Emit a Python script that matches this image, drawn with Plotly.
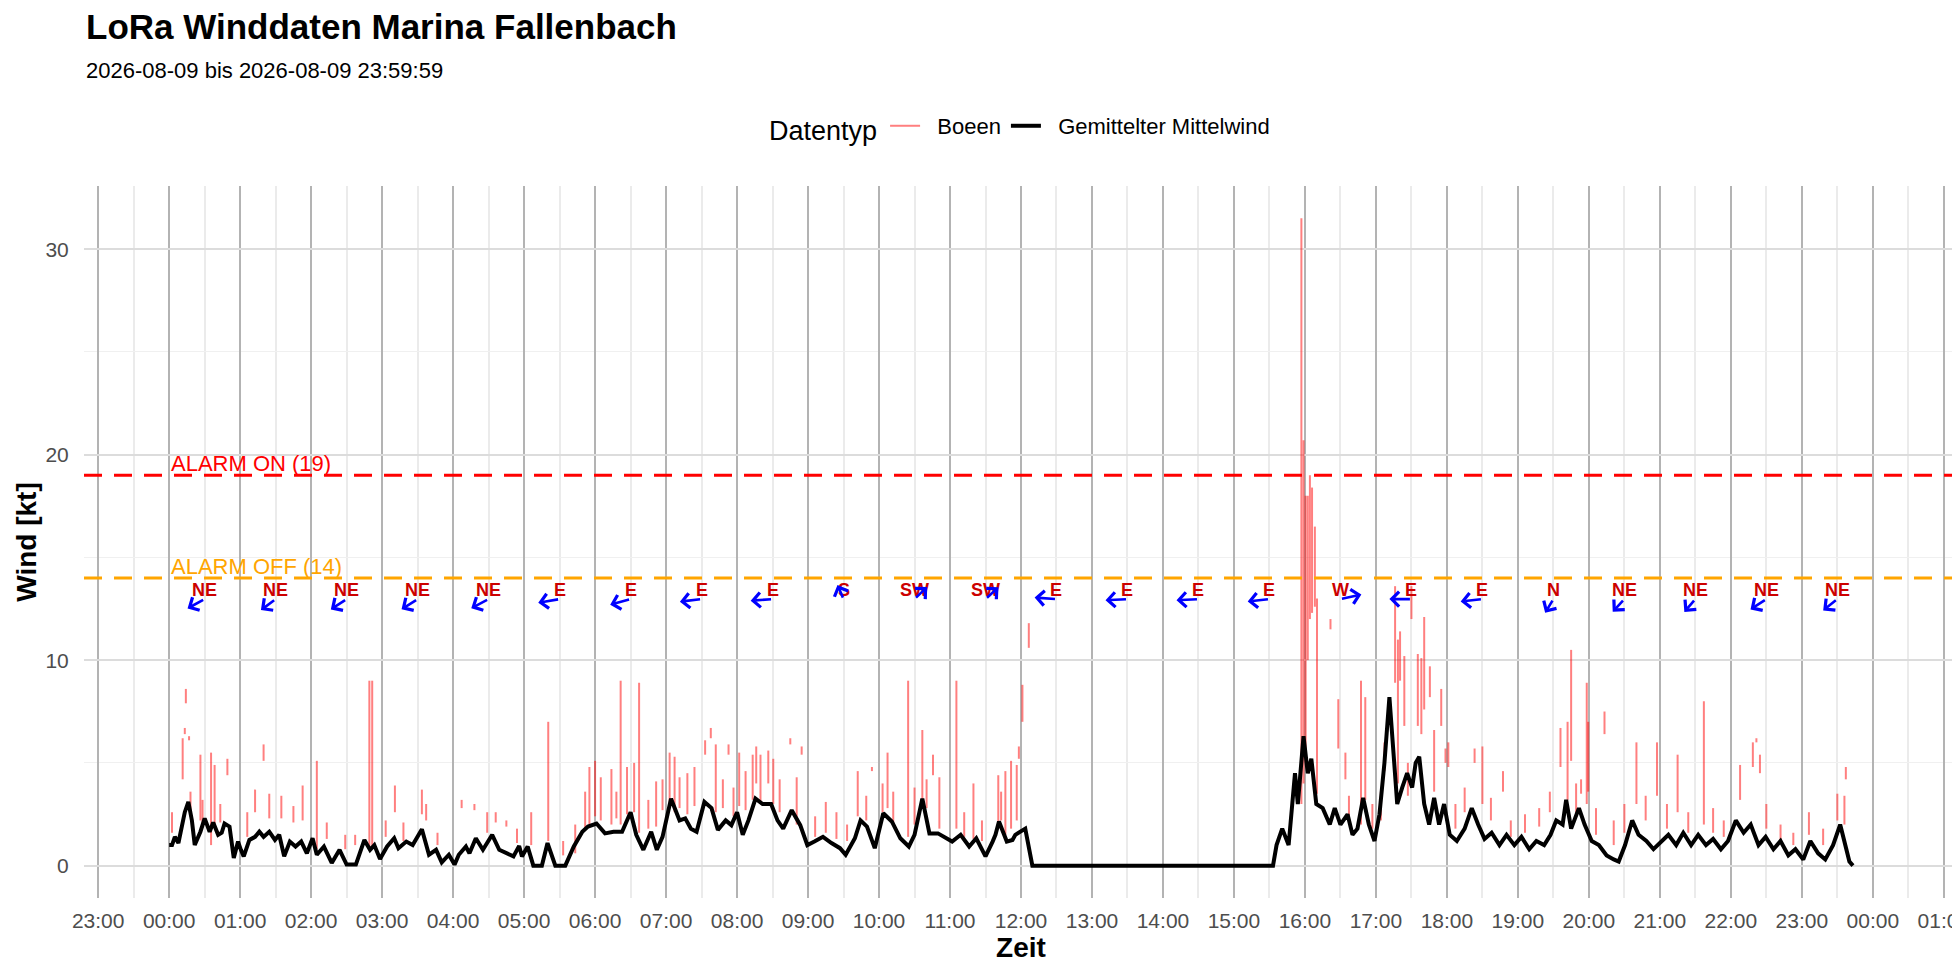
import math
import pandas as pd
import plotly.graph_objects as go

# Gemittelter Mittelwind: Stunden ab 00:00, Wind in kt
mean_h = [0.00, 0.04, 0.08, 0.13, 0.22, 0.27, 0.32, 0.36, 0.44, 0.50, 0.57, 0.62, 0.69, 0.74, 0.78, 0.85,
          0.91, 0.97, 1.01, 1.05, 1.13, 1.21, 1.27, 1.33, 1.41, 1.49, 1.55, 1.62, 1.70, 1.78, 1.86, 1.94,
          2.02, 2.08, 2.18, 2.29, 2.40, 2.50, 2.63, 2.75, 2.83, 2.89, 2.97, 3.07, 3.17, 3.23, 3.34, 3.43,
          3.56, 3.66, 3.76, 3.84, 3.94, 4.02, 4.08, 4.18, 4.23, 4.32, 4.42, 4.55, 4.65, 4.77, 4.85, 4.93,
          4.97, 5.05, 5.13, 5.25, 5.33, 5.44, 5.58, 5.70, 5.82, 5.90, 6.02, 6.14, 6.26, 6.38, 6.50, 6.58,
          6.68, 6.79, 6.87, 6.95, 7.07, 7.19, 7.27, 7.35, 7.43, 7.54, 7.64, 7.73, 7.84, 7.92, 8.00, 8.08,
          8.16, 8.26, 8.36, 8.48, 8.57, 8.65, 8.77, 8.89, 8.99, 9.09, 9.21, 9.33, 9.45, 9.53, 9.66, 9.74,
          9.83, 9.94, 10.06, 10.18, 10.30, 10.42, 10.50, 10.61, 10.71, 10.83, 10.95, 11.03, 11.15, 11.27,
          11.37, 11.50, 11.60, 11.64, 11.69, 11.80, 11.88, 11.92, 12.06, 12.12, 12.16, 15.55,
          15.60, 15.68, 15.77, 15.86, 15.90, 15.98, 16.04, 16.09, 16.16, 16.25, 16.35, 16.42, 16.50, 16.60,
          16.67, 16.74, 16.82, 16.90, 16.98, 17.05, 17.12, 17.19, 17.25, 17.30, 17.37, 17.44, 17.51, 17.56,
          17.61, 17.68, 17.75, 17.82, 17.89, 17.96, 18.04, 18.14, 18.25, 18.35, 18.44, 18.53, 18.63, 18.74,
          18.84, 18.95, 19.05, 19.16, 19.26, 19.37, 19.46, 19.54, 19.63, 19.68, 19.75, 19.86, 19.94, 20.04,
          20.14, 20.25, 20.35, 20.42, 20.51, 20.61, 20.70, 20.81, 20.91, 21.02, 21.12, 21.23, 21.33, 21.44,
          21.54, 21.65, 21.75, 21.86, 21.96, 22.07, 22.18, 22.28, 22.39, 22.49, 22.60, 22.70, 22.81, 22.91,
          23.02, 23.12, 23.23, 23.33, 23.44, 23.54, 23.61, 23.67, 23.72]
mean_kt = [1.0, 1.0, 1.4, 1.1, 2.6, 3.1, 2.2, 1.0, 1.65, 2.3, 1.65, 2.1, 1.5, 1.6, 2.05, 1.9,
           0.37, 1.17, 0.77, 0.45, 1.25, 1.4, 1.65, 1.4, 1.65, 1.25, 1.5, 0.45, 1.17, 0.93, 1.17, 0.6,
           1.33, 0.53, 0.93, 0.13, 0.77, 0.05, 0.05, 1.25, 0.77, 1.0, 0.32, 0.93, 1.33, 0.85, 1.17, 1.0,
           1.77, 0.53, 0.77, 0.16, 0.53, 0.05, 0.53, 0.93, 0.6, 1.33, 0.77, 1.5, 0.77, 0.6, 0.45, 0.96,
           0.45, 0.93, 0.0, 0.0, 1.1, 0.0, 0.0, 0.93, 1.65, 1.9, 2.05, 1.57, 1.65, 1.65, 2.6, 1.5,
           0.77, 1.65, 0.77, 1.4, 3.26, 2.2, 2.3, 1.8, 1.65, 3.1, 2.8, 1.74, 2.2, 1.97, 2.6, 1.5,
           2.2, 3.26, 3.0, 3.0, 2.2, 1.8, 2.7, 1.97, 1.0, 1.17, 1.4, 1.1, 0.85, 0.53, 1.33, 2.2,
           1.9, 0.85, 2.55, 2.15, 1.33, 0.93, 1.5, 3.26, 1.57, 1.57, 1.33, 1.17, 1.5, 0.93,
           1.33, 0.45, 1.17, 1.5, 2.15, 1.17, 1.25, 1.5, 1.8, 0.77, 0.0, 0.0,
           1.0, 1.8, 1.0, 4.5, 3.0, 6.3, 4.5, 5.2, 3.0, 2.8, 2.0, 2.8, 2.0, 2.5,
           1.5, 1.8, 3.3, 2.0, 1.2, 2.5, 5.0, 8.2, 5.0, 3.0, 3.8, 4.5, 3.8, 5.0,
           5.3, 3.0, 2.0, 3.3, 2.0, 3.0, 1.5, 1.2, 1.8, 2.8, 2.0, 1.3, 1.6, 1.0,
           1.5, 1.0, 1.4, 0.8, 1.2, 1.0, 1.5, 2.2, 2.0, 3.2, 1.8, 2.8, 2.0, 1.2,
           1.0, 0.5, 0.3, 0.2, 1.0, 2.2, 1.5, 1.2, 0.8, 1.2, 1.5, 1.0, 1.6, 1.0,
           1.5, 1.0, 1.3, 0.8, 1.2, 2.2, 1.6, 2.0, 1.0, 1.4, 0.8, 1.2, 0.5, 0.8,
           0.3, 1.2, 0.6, 0.3, 1.0, 2.0, 1.0, 0.2, 0.0]

# Boeen: Zeitpunkt (Stunden), unteres und oberes Ende jedes Strichs in kt
gust_h = [0.04, 0.19, 0.22, 0.235, 0.28, 0.30, 0.44, 0.47, 0.59, 0.64, 0.72, 0.82,
          1.10, 1.21, 1.33, 1.41, 1.58, 1.75, 1.88,
          2.08, 2.22, 2.48, 2.62, 2.82, 2.86,
          3.05, 3.18, 3.30, 3.56, 3.62, 3.78,
          4.12, 4.30, 4.48, 4.60, 4.75, 4.90,
          5.10, 5.34, 5.55, 5.72, 5.86, 5.92,
          6.00, 6.08, 6.23, 6.30, 6.36, 6.45, 6.55, 6.62, 6.75, 6.86, 6.95,
          7.05, 7.12, 7.19, 7.30, 7.40, 7.55, 7.63, 7.70, 7.80, 7.88, 7.95,
          8.03, 8.12, 8.22, 8.27, 8.33, 8.44, 8.51, 8.60, 8.75, 8.84, 8.91,
          9.10, 9.25, 9.40, 9.55, 9.70, 9.82, 9.90,
          10.05, 10.12, 10.20, 10.41, 10.50, 10.61, 10.67, 10.76, 10.85,
          11.09, 11.20, 11.33, 11.45, 11.68, 11.72, 11.78, 11.86, 11.94, 11.97, 12.02, 12.11,
          15.95, 15.98, 16.01, 16.04, 16.07, 16.10, 16.14, 16.17, 16.36, 16.47, 16.57, 16.62, 16.79, 16.85, 16.95,
          17.07, 17.12, 17.27, 17.31, 17.34, 17.40, 17.45, 17.50, 17.59, 17.64, 17.68, 17.76, 17.82, 17.92, 17.98,
          18.02, 18.12, 18.25, 18.39, 18.50, 18.62, 18.79, 18.90,
          19.10, 19.30, 19.45, 19.60, 19.70, 19.75, 19.82, 19.89, 19.97, 19.99,
          20.10, 20.22, 20.35, 20.50, 20.67, 20.80, 20.96,
          21.10, 21.25, 21.40, 21.62, 21.75, 21.90,
          22.13, 22.31, 22.36, 22.41, 22.50, 22.70, 22.88,
          23.10, 23.30, 23.50, 23.60, 23.62]
gust_lo = [1.6, 4.2, 6.4, 7.9, 6.1, 2.4, 2.2, 1.9, 1.0, 2.0, 2.1, 4.4,
           1.4, 2.6, 5.1, 2.3, 2.3, 2.1, 2.2,
           0.8, 1.3, 0.8, 1.0, 0.8, 0.8,
           1.4, 2.6, 1.2, 2.5, 2.2, 1.0,
           2.8, 2.7, 1.6, 2.1, 1.9, 1.1,
           1.0, 1.2, 0.5, 0.6, 1.8, 2.0,
           2.4, 2.2, 2.0, 2.3, 2.0, 2.5, 2.6, 1.6, 1.8, 1.9, 2.7,
           3.0, 2.6, 2.8, 2.5, 2.9, 5.4, 6.2, 2.6, 2.8, 5.4, 2.4,
           2.9, 2.7, 3.2, 4.0, 3.0, 4.0, 3.0, 2.6, 5.9, 2.0, 5.4,
           1.4, 1.6, 1.3, 1.2, 2.4, 2.2, 4.6,
           2.6, 2.8, 2.0, 1.4, 2.0, 3.2, 2.8, 4.4, 1.8,
           1.8, 1.4, 1.3, 1.2, 1.8, 2.2, 1.5, 1.8, 2.2, 5.2, 7.0, 10.6,
           3.0, 4.0, 5.0, 10.0, 12.0, 12.3, 12.6, 3.5, 11.5, 5.7, 4.2, 2.2, 2.0, 3.2, 1.8,
           2.2, 4.6, 8.9, 4.0, 9.0, 6.8, 3.4, 12.0, 6.8, 6.4, 7.6, 8.2, 3.6, 6.8, 5.0,
           4.8, 1.8, 2.6, 5.0, 3.0, 2.2, 3.6, 1.4,
           1.6, 1.9, 2.6, 4.8, 3.2, 5.1, 2.5, 3.5, 3.0, 3.6,
           1.5, 6.4, 1.0, 1.6, 3.0, 2.2, 3.4,
           1.8, 2.6, 1.6, 2.0, 1.6, 1.4,
           3.2, 4.8, 6.0, 4.5, 1.8, 1.2, 1.0,
           1.5, 1.0, 2.2, 2.0, 4.2]
gust_hi = [2.6, 6.2, 6.7, 8.6, 6.3, 3.6, 5.4, 3.2, 5.5, 4.9, 3.0, 5.2,
           2.6, 3.7, 5.9, 3.5, 3.4, 2.9, 3.9,
           5.1, 2.1, 1.5, 1.5, 9.0, 9.0,
           2.2, 3.9, 2.1, 3.7, 3.0, 1.6,
           3.2, 3.0, 2.6, 2.6, 2.2, 1.8,
           2.6, 7.0, 1.2, 2.0, 3.6, 4.8,
           5.1, 4.3, 4.7, 3.6, 9.0, 4.8, 5.0, 8.9, 3.2, 4.1, 4.2,
           5.5, 5.3, 4.3, 4.5, 4.8, 6.1, 6.7, 5.9, 4.2, 5.9, 3.8,
           5.5, 4.6, 5.4, 5.8, 5.4, 5.6, 5.2, 4.2, 6.2, 4.3, 5.8,
           2.4, 3.1, 2.6, 2.0, 4.6, 3.4, 4.8,
           4.0, 5.5, 3.6, 9.0, 3.8, 6.6, 4.2, 5.4, 4.3,
           9.0, 2.6, 4.0, 2.2, 4.4, 3.6, 4.6, 5.1, 4.9, 5.8, 8.8, 11.8,
           31.5, 20.7, 18.0, 18.0, 19.0, 18.4, 16.5, 13.0, 12.0, 8.1, 5.5, 3.4, 9.0, 8.2, 3.0,
           3.6, 6.0, 13.6, 11.0, 11.4, 10.2, 5.0, 13.6, 10.3, 10.1, 12.1, 9.7, 6.6, 8.6, 5.7,
           6.0, 3.0, 3.8, 5.7, 5.8, 3.3, 4.6, 2.2,
           2.5, 2.8, 3.6, 6.7, 7.0, 10.5, 4.0, 4.2, 8.9, 7.0,
           2.8, 7.5, 2.2, 3.0, 6.0, 3.4, 6.0,
           3.0, 5.4, 2.6, 8.0, 2.8, 2.2,
           4.9, 6.0, 6.2, 5.4, 3.0, 2.0, 1.6,
           2.6, 1.8, 3.5, 3.4, 4.8]

# Windrichtung je Stunde (Mitte der Stunde)
dir_h = [0.5, 1.5, 2.5, 3.5, 4.5, 5.5, 6.5, 7.5, 8.5, 9.5, 10.5, 11.5,
         12.5, 13.5, 14.5, 15.5, 16.5, 17.5, 18.5, 19.5, 20.5, 21.5, 22.5, 23.5]
dir_label = ["NE", "NE", "NE", "NE", "NE", "E", "E", "E", "E", "S", "SW", "SW",
             "E", "E", "E", "E", "W", "E", "E", "N", "NE", "NE", "NE", "NE"]
dir_deg = [51, 42, 46, 47, 52, 76, 68, 80, 84, 164, 215, 216,
           96, 86, 86, 81, 252, 90, 81, 22, 32, 30, 46, 40]

alarm_on = 19
alarm_off = 14

day0 = pd.Timestamp("2026-08-09 00:00:00")


def ts(h):
    return day0 + pd.Timedelta(hours=h)


FONT = "Liberation Sans"
NB = "\u00a0"

# Boeen als senkrechte Striche mit Luecken
gx, gy = [], []
for h, lo, hi in zip(gust_h, gust_lo, gust_hi):
    gx += [ts(h), ts(h), None]
    gy += [lo, hi, None]

fig = go.Figure()
fig.add_trace(go.Scatter(x=gx, y=gy, mode="lines", name=NB * 2 + "Boeen",
                         line=dict(color="rgba(255,0,0,0.5)", width=2)))
fig.add_trace(go.Scatter(x=[ts(h) for h in mean_h], y=mean_kt, mode="lines",
                         name=NB * 2 + "Gemittelter Mittelwind",
                         line=dict(color="black", width=4)))

# Alarmlinien
for val, col, txt in [(alarm_on, "#FF0000", "ALARM ON (19)"),
                      (alarm_off, "#FFA500", "ALARM OFF (14)")]:
    fig.add_shape(type="line", xref="paper", x0=0, x1=1, yref="y", y0=val, y1=val,
                  line=dict(color=col, width=3, dash="18px,12px"))
    fig.add_annotation(x=ts(0), y=val, xref="x", yref="y", text=txt, showarrow=False,
                       xanchor="left", yanchor="bottom", yshift=-3,
                       font=dict(family=FONT, size=22, color=col))

# Richtungen: Text + Pfeil
lab_y = 13.42
tail_y = 12.97
for h, lab, deg in zip(dir_h, dir_label, dir_deg):
    fig.add_annotation(x=ts(h), y=lab_y, text=lab, showarrow=False,
                       font=dict(family=FONT, size=18, color="#CC0000", weight="bold"))
    r = math.radians(deg)
    hx = h - 0.31 * math.sin(r)
    hy = tail_y - 0.72 * math.cos(r)
    fig.add_annotation(x=ts(hx), y=hy, ax=ts(h), ay=tail_y, axref="x", ayref="y",
                       xref="x", yref="y", text="", showarrow=True,
                       arrowhead=4, arrowsize=1.1, arrowwidth=2.6, arrowcolor="#0000FF")

# Untertitel
fig.add_annotation(x=0, y=1.162, xref="paper", yref="paper", text="2026-08-09 bis 2026-08-09 23:59:59",
                   showarrow=False, xanchor="left", yanchor="middle",
                   font=dict(family=FONT, size=22, color="black"))

fig.update_layout(
    width=1960, height=980,
    margin=dict(l=76, r=10, t=178, b=90),
    paper_bgcolor="white", plot_bgcolor="white",
    font=dict(family=FONT, color="black"),
    title=dict(text="LoRa Winddaten Marina Fallenbach", xref="container", x=78 / 1960,
               xanchor="left", yref="container", y=1 - 19 / 980, yanchor="middle",
               font=dict(family=FONT, size=35, color="black", weight="bold")),
    legend=dict(orientation="h", x=0.5, xanchor="center", y=1.0815, yanchor="middle",
                title=dict(text="Datentyp", side="left", font=dict(family=FONT, size=27)),
                font=dict(family=FONT, size=22), itemwidth=30),
    showlegend=True,
)

fig.update_xaxes(
    type="date", range=[ts(-1.2), ts(25.2)], automargin=False,
    tick0=ts(-1), dtick=3600000, tickformat="%H:%M", ticklabeloverflow="allow",
    showgrid=True, gridcolor="#B3B3B3", gridwidth=2.2,
    minor=dict(dtick=1800000, showgrid=True, gridcolor="#EBEBEB", gridwidth=1.5),
    ticks="outside", ticklen=4, tickcolor="rgba(0,0,0,0)",
    tickfont=dict(family=FONT, size=21, color="#4D4D4D"),
    zeroline=False, showline=False,
    title=dict(text="Zeit", standoff=6, font=dict(family=FONT, size=28, color="black", weight="bold")),
)
fig.update_yaxes(
    range=[-1.575, 33.075], tick0=0, dtick=10, automargin=False,
    showgrid=True, gridcolor="#DCDCDC", gridwidth=1.5,
    minor=dict(dtick=5, showgrid=True, gridcolor="#F0F0F0", gridwidth=1.3),
    ticks="outside", ticklen=10, tickcolor="rgba(0,0,0,0)",
    tickfont=dict(family=FONT, size=21, color="#4D4D4D"),
    zeroline=False, showline=False,
    title=dict(text="Wind [kt]", standoff=0, font=dict(family=FONT, size=28, color="black", weight="bold")),
)

fig.write_html("out.html")
